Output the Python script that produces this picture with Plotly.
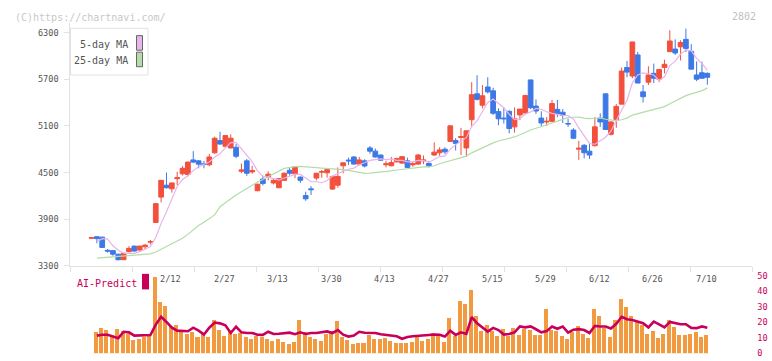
import numpy as np
import pandas as pd
import plotly.graph_objects as go

# ---------------- data ----------------
holidays = ["2026-02-11", "2026-02-23", "2026-03-20", "2026-04-29",
            "2026-05-04", "2026-05-05", "2026-05-06"]
dates = [d for d in pd.bdate_range("2026-01-21", "2026-07-10")
         if d.strftime("%Y-%m-%d") not in holidays]
date_labels = ["2/12", "2/27", "3/13", "3/30", "4/13", "4/27",
               "5/15", "5/29", "6/12", "6/26", "7/10"]

open_ = [3655, 3675, 3669, 3500, 3496, 3450, 3379, 3483, 3554, 3504,
         3546, 3605, 3859, 4184, 4337, 4291, 4421, 4484, 4475, 4662,
         4650, 4612, 4600, 4754, 4912, 4837, 4816, 4825, 4516, 4650,
         4508, 4266, 4416, 4441, 4366, 4304, 4400, 4529, 4483, 4441,
         4204, 4290, 4429, 4505, 4496, 4287, 4337, 4587, 4660, 4700,
         4609, 4650, 4816, 4775, 4725, 4600, 4587, 4637, 4621, 4650,
         4600, 4609, 4650, 4616, 4725, 4754, 4800, 4900, 4912, 4950,
         4816, 5179, 5512, 5366, 5600, 5550, 5283, 5200, 5287, 5087,
         5241, 5266, 5691, 5354, 5200, 5150, 5158, 5312, 5275, 5130,
         5046, 4800, 4850, 4775, 4846, 5200, 5512, 4991, 5183, 5379,
         5850, 5741, 6012, 5537, 5662, 5775, 5700, 5850, 6054, 6087,
         6116, 6212, 6058, 5754, 5783, 5775]
high = [3665, 3675, 3675, 3515, 3500, 3455, 3465, 3554, 3560, 3560,
        3583, 3633, 4105, 4405, 4500, 4370, 4509, 4584, 4640, 4775,
        4660, 4650, 4741, 4961, 5025, 4980, 4991, 4866, 4616, 4675,
        4587, 4355, 4462, 4516, 4429, 4425, 4500, 4559, 4580, 4450,
        4254, 4325, 4495, 4534, 4545, 4455, 4566, 4630, 4691, 4710,
        4700, 4670, 4841, 4808, 4730, 4650, 4700, 4691, 4710, 4691,
        4640, 4741, 4720, 4650, 4887, 4825, 4825, 5105, 4941, 5075,
        5037, 5662, 5750, 5625, 5725, 5590, 5325, 5337, 5300, 5337,
        5316, 5500, 5691, 5441, 5287, 5212, 5433, 5433, 5316, 5191,
        5070, 4908, 4866, 4883, 5212, 5262, 5512, 5162, 5383, 5850,
        5934, 6179, 6050, 5625, 5866, 5900, 5825, 5950, 6329, 6212,
        6200, 6350, 6150, 5929, 5925, 5787]
low = [3655, 3590, 3530, 3470, 3430, 3371, 3375, 3475, 3480, 3495,
       3510, 3575, 3850, 4116, 4296, 4241, 4337, 4462, 4450, 4620,
       4554, 4554, 4580, 4741, 4858, 4816, 4810, 4684, 4491, 4457,
       4483, 4260, 4333, 4400, 4346, 4300, 4395, 4462, 4429, 4366,
       4137, 4212, 4400, 4434, 4434, 4280, 4304, 4491, 4596, 4600,
       4591, 4566, 4741, 4691, 4650, 4566, 4580, 4629, 4615, 4560,
       4575, 4596, 4608, 4566, 4716, 4716, 4737, 4895, 4784, 4725,
       4700, 5087, 5425, 5325, 5516, 5240, 5108, 5129, 5004, 5012,
       5175, 5250, 5316, 5254, 5095, 5100, 5150, 5212, 5137, 5087,
       4930, 4662, 4683, 4675, 4833, 5087, 5054, 4975, 5075, 5379,
       5725, 5712, 5650, 5400, 5625, 5650, 5662, 5775, 6054, 6012,
       5941, 6050, 5829, 5675, 5712, 5629]
close = [3662, 3650, 3537, 3490, 3450, 3379, 3462, 3525, 3491, 3554,
         3566, 3612, 4100, 4400, 4304, 4366, 4434, 4554, 4634, 4634,
         4608, 4605, 4700, 4941, 4866, 4975, 4941, 4709, 4534, 4491,
         4525, 4350, 4358, 4479, 4400, 4421, 4491, 4491, 4575, 4400,
         4162, 4280, 4491, 4512, 4537, 4450, 4450, 4625, 4650, 4609,
         4662, 4584, 4775, 4700, 4659, 4612, 4629, 4679, 4704, 4566,
         4612, 4725, 4660, 4587, 4762, 4791, 4766, 5100, 4875, 4962,
         5037, 5500, 5441, 5487, 5537, 5262, 5191, 5191, 5066, 5191,
         5316, 5491, 5333, 5291, 5137, 5158, 5387, 5254, 5233, 5125,
         4941, 4812, 4754, 4725, 5087, 5150, 5054, 5150, 5350, 5804,
         5791, 6179, 5650, 5475, 5754, 5712, 5825, 5891, 6191, 6037,
         6171, 6096, 5829, 5700, 5712, 5725]

# moving-average values before enough history is on the chart
ma5_head = [None, 3610, 3650, 3645]
ma25_head = [None, 3400, 3405, 3410, 3414, 3420, 3428, 3435, 3440, 3445,
             3450, 3455, 3478, 3510, 3550, 3585, 3618, 3655, 3705, 3760,
             3820, 3860, 3905, 3955]

volume = [None, 13.9, 16.4, 15.2, 12.3, 15.8, 14.6, 12.9, 9.1, 9.8,
          11.0, 11.4, 49.5, 33.0, 31.0, 18.0, 18.3, 15.0, 13.0, 14.0,
          10.5, 12.5, 11.0, 22.0, 15.6, 11.4, 15.0, 13.0, 13.5, 11.0,
          9.4, 11.4, 11.0, 9.6, 8.3, 9.8, 7.5, 6.4, 7.7, 22.0,
          13.9, 11.0, 9.4, 8.3, 12.7, 14.4, 20.8, 11.0, 8.9, 6.4,
          7.1, 7.1, 11.9, 9.6, 9.6, 10.4, 8.3, 7.1, 7.1, 6.7,
          7.7, 10.8, 8.3, 9.6, 13.3, 12.3, 7.7, 23.3, 11.4, 33.9,
          32.0, 41.0, 24.0, 14.6, 18.3, 14.6, 11.4, 15.8, 11.4, 16.7,
          12.1, 15.8, 15.2, 12.1, 12.1, 29.0, 15.2, 14.6, 11.4, 9.6,
          13.9, 17.7, 12.9, 10.2, 29.0, 24.0, 16.4, 10.8, 22.0, 35.2,
          30.2, 24.6, 20.4, 18.3, 12.7, 14.6, 10.2, 12.7, 21.4, 17.1,
          12.1, 12.1, 12.7, 13.9, 10.8, 12.1]
ai_predict = [None, 11.4, 12.0, 12.0, 11.0, 9.8, 13.9, 13.5, 11.4, 11.4,
              11.4, 11.8, 18.5, 23.5, 20.2, 16.5, 14.6, 14.6, 14.2, 16.5,
              14.6, 12.1, 16.5, 19.8, 19.3, 18.0, 13.1, 17.1, 13.5, 13.1,
              13.1, 12.0, 11.9, 13.9, 12.5, 12.6, 13.1, 13.3, 12.3, 13.5,
              12.5, 13.1, 13.1, 13.5, 14.1, 13.1, 15.0, 12.0, 10.8, 11.5,
              13.9, 13.3, 13.1, 13.1, 12.3, 11.9, 11.4, 11.0, 9.4, 10.5,
              11.0, 11.4, 11.4, 11.8, 12.1, 12.0, 10.8, 14.6, 11.9, 13.5,
              12.5, 23.3, 19.4, 16.7, 14.0, 16.4, 15.0, 12.1, 12.5, 13.5,
              17.3, 16.7, 17.3, 15.5, 13.5, 14.3, 17.3, 15.8, 17.3, 13.3,
              15.2, 15.6, 15.0, 13.1, 17.7, 17.3, 17.3, 16.0, 19.0, 23.5,
              21.9, 21.4, 20.4, 19.4, 16.7, 20.4, 18.7, 16.7, 20.2, 19.4,
              18.7, 18.7, 16.4, 16.2, 17.3, 16.4]

price_ticks = [3300, 3900, 4500, 5100, 5700, 6300]
volume_ticks = [0, 10, 20, 30, 40, 50]

# ---------------- styling ----------------
W, H = 772, 361
RED = "#f2503c"
BLUE = "#3d79e6"
MA5_C = "#e8b4ec"
MA25_C = "#b4dca8"
VOL_C = "#f29a40"
AI_C = "#c8005a"
AXIS_C = "#e2e2e2"
MONO = "DejaVu Sans Mono"

def px(x):
    return x / W

def py(y):
    return 1 - y / H

idx = np.arange(len(close))
cs = pd.Series(close, dtype=float)
ma5 = cs.rolling(5).mean().tolist()
ma25 = cs.rolling(25).mean().tolist()
ma5[:len(ma5_head)] = ma5_head
ma25[:len(ma25_head)] = ma25_head

# x mapping: plot area from pixel 70.3 to 752.3
slot = 5.355
first_px = 91.5
x_left_px, x_right_px = 70.3, 752.3
xr = [(x_left_px - first_px) / slot, (x_right_px - first_px) / slot]

fig = go.Figure()

fig.add_trace(go.Scatter(x=idx, y=ma25, mode="lines", line=dict(color=MA25_C, width=1.2),
                         hoverinfo="skip", showlegend=False, xaxis="x", yaxis="y"))
fig.add_trace(go.Scatter(x=idx, y=ma5, mode="lines", line=dict(color=MA5_C, width=1.2),
                         hoverinfo="skip", showlegend=False, xaxis="x", yaxis="y"))
fig.add_trace(go.Candlestick(
    x=idx, open=open_, high=high, low=low, close=close,
    increasing=dict(line=dict(color=RED, width=1), fillcolor=RED),
    decreasing=dict(line=dict(color=BLUE, width=1), fillcolor=BLUE),
    whiskerwidth=0, hoverinfo="skip", showlegend=False, xaxis="x", yaxis="y"))

fig.add_trace(go.Bar(x=idx - 0.15, y=volume, width=0.75, marker=dict(color=VOL_C, line=dict(width=0)),
                     hoverinfo="skip", showlegend=False, xaxis="x2", yaxis="y2"))
fig.add_trace(go.Scatter(x=idx, y=ai_predict, mode="lines", line=dict(color=AI_C, width=2.6),
                         hoverinfo="skip", showlegend=False, xaxis="x2", yaxis="y2"))

xdom = [px(x_left_px), px(x_right_px)]
price_top_px, price_bot_px = 18, 268.3
vol_top_px, vol_bot_px = 278.3, 358.3
p_per_px = 12.5

fig.update_layout(
    width=W, height=H, margin=dict(l=0, r=0, t=0, b=0),
    paper_bgcolor="white", plot_bgcolor="white",
    boxgap=0.12, boxgroupgap=0, bargap=0,
    xaxis=dict(domain=xdom, range=xr, showgrid=False, zeroline=False,
               showline=True, linecolor=AXIS_C, linewidth=1,
               ticks="outside", ticklen=5, tickcolor=AXIS_C, tickwidth=1,
               tickvals=list(np.linspace(xr[0], xr[1], 12)), showticklabels=False,
               rangeslider=dict(visible=False),
               anchor="y", fixedrange=True),
    yaxis=dict(domain=[py(price_bot_px), py(price_top_px)],
               range=[3300, 3300 + (price_bot_px - price_top_px) * p_per_px],
               showgrid=False, zeroline=False, showline=True, linecolor=AXIS_C, linewidth=1,
               ticks="outside", ticklen=5, tickcolor=AXIS_C, tickwidth=1,
               tickvals=price_ticks, ticktext=[str(t) for t in price_ticks],
               tickfont=dict(family=MONO, size=8.6, color="#555555"),
               ticklabelstandoff=4,
               anchor="x", fixedrange=True),
    xaxis2=dict(domain=xdom, range=xr, visible=False, anchor="y2", fixedrange=True,
                rangeslider=dict(visible=False)),
    yaxis2=dict(domain=[py(vol_bot_px), py(vol_top_px)], range=[0, 50], side="right",
                showgrid=False, zeroline=False, showline=False, ticks="",
                tickvals=volume_ticks, ticktext=[str(t) for t in volume_ticks],
                tickfont=dict(family=MONO, size=8.6, color=AI_C),
                ticklabelstandoff=4, anchor="x2", fixedrange=True),
)

shapes = []
annotations = []

# date labels
for lab in date_labels:
    m, d = lab.split("/")
    pos = [k for k, dt in enumerate(dates) if dt.month == int(m) and dt.day == int(d)][0]
    annotations.append(dict(x=pos - 0.2, y=py(282), xref="x", yref="paper", text=lab,
                            showarrow=False, xanchor="center", yanchor="middle",
                            font=dict(family=MONO, size=8.6, color="#555555")))

# legend box
shapes.append(dict(type="rect", xref="paper", yref="paper", x0=px(70.5), x1=px(148),
                   y0=py(72), y1=py(24), line=dict(color=AXIS_C, width=1), fillcolor="white",
                   layer="above"))
for label, col, ty, r0, r1 in [("5-day MA", MA5_C, 40.5, 31.5, 46.5),
                               ("25-day MA", MA25_C, 57.5, 48.5, 63.5)]:
    annotations.append(dict(x=px(130), y=py(ty), xref="paper", yref="paper", text=label,
                            showarrow=False, xanchor="right", yanchor="middle",
                            font=dict(family=MONO, size=10, color="#555555")))
    shapes.append(dict(type="rect", xref="paper", yref="paper", x0=px(136.5), x1=px(142.5),
                       y0=py(r1), y1=py(r0), line=dict(color="#666666", width=1),
                       fillcolor=col, layer="above"))

# AI-Predict label
annotations.append(dict(x=px(75), y=py(286), xref="paper", yref="paper", text="AI-Predict",
                        showarrow=False, xanchor="left", yanchor="middle",
                        font=dict(family=MONO, size=10, color=AI_C)))
shapes.append(dict(type="rect", xref="paper", yref="paper", x0=px(142), x1=px(149),
                   y0=py(292.5), y1=py(276.5), line=dict(width=0), fillcolor=AI_C))

# watermark and code
annotations.append(dict(x=px(13), y=py(12.5), xref="paper", yref="paper",
                        text="(C)https://chartnavi.com/", showarrow=False,
                        xanchor="left", yanchor="middle",
                        font=dict(family=MONO, size=10, color="#c8c8c8")))
annotations.append(dict(x=px(758), y=py(12), xref="paper", yref="paper", text="2802",
                        showarrow=False, xanchor="right", yanchor="middle",
                        font=dict(family=MONO, size=10, color="#c0c0c0")))

fig.update_layout(shapes=shapes, annotations=annotations)

fig.write_html("out.html")
